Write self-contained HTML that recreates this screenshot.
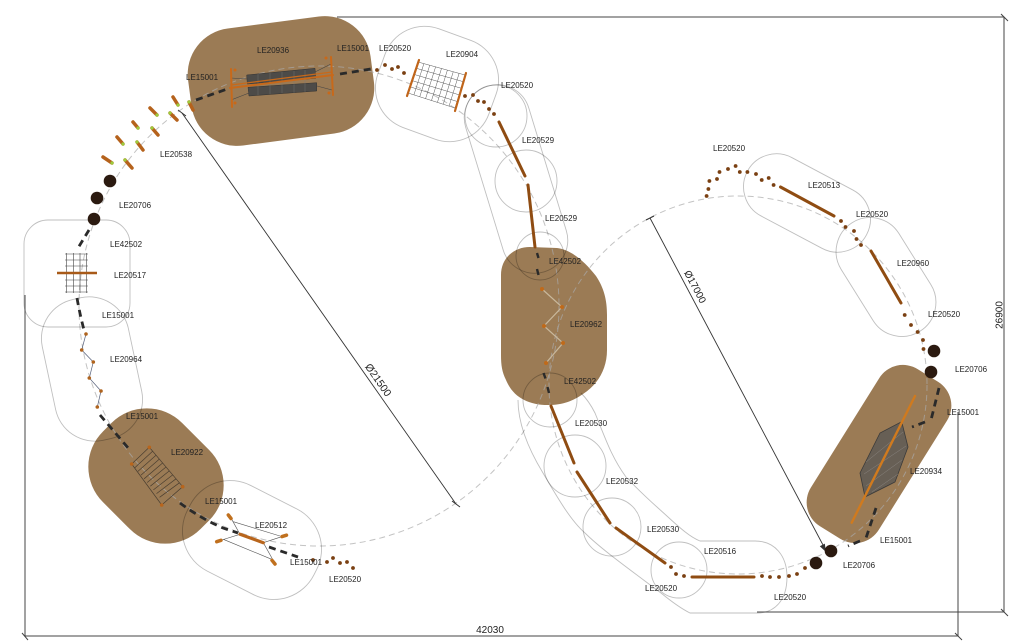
<!DOCTYPE html>
<html><head><meta charset="utf-8"><style>
html,body{margin:0;padding:0;background:#fff;}
svg{display:block;}
text{font-family:"Liberation Sans",Arial,sans-serif;font-size:8px;fill:#222;}
</style></head><body>
<svg width="1024" height="644" viewBox="0 0 1024 644" xmlns="http://www.w3.org/2000/svg">
<rect width="1024" height="644" fill="#fff"/>

<!-- brown areas -->
<g fill="#9b7b55">
<rect x="-92" y="-59" width="184" height="118" rx="46" transform="translate(281,81) rotate(-7.5)"/>
<path d="M501,275 C501,258 514,247 530,247 L557,248 C572,250 585,262 596,276 C604,288 607,300 607,315 L607,350 C607,370 597,385 583,394 C573,401 563,405 548,405 C528,405 513,397 506,380 C502,372 501,365 501,355 Z"/>
<rect x="-92.5" y="-40" width="185" height="80" rx="28" transform="translate(879,454) rotate(-58)"/>
<rect x="-69" y="-56" width="138" height="112" rx="50" transform="translate(156,476) rotate(45)"/>
</g>

<!-- dashed path circles -->
<g fill="none" stroke="#aaa" stroke-opacity="0.7" stroke-width="1" stroke-dasharray="6 4">
<circle cx="319" cy="306" r="240"/>
<circle cx="738" cy="385" r="189"/>
</g>

<!-- zone outlines -->
<g fill="none" stroke="#000" stroke-opacity="0.25" stroke-width="0.9">
<rect x="24" y="220" width="106" height="107" rx="24"/>
<rect x="-44" y="-72" width="88" height="144" rx="40" transform="translate(92,369) rotate(-12)"/>
<rect x="-71" y="-48" width="142" height="96" rx="45" transform="translate(252,540) rotate(27)"/>
<rect x="-59" y="-52.5" width="118" height="105" rx="42" transform="translate(437,84) rotate(20)"/>
<circle cx="496" cy="116" r="31"/>
<circle cx="526" cy="181" r="31"/>
<rect x="-33" y="-97" width="66" height="194" rx="33" transform="translate(516,179) rotate(-17)"/>
<circle cx="540" cy="256" r="24"/>
<circle cx="550" cy="400" r="27"/>
<path d="M518,400 C518,420 526,445 543,473 C556,495 570,520 585,533 C600,548 625,566 661,593 C672,602 680,608 690,613 L757,613 C775,613 787,600 787,577 C787,556 775,541 755,541 L700,541 C690,537 680,528 668,517 C655,505 645,497 626,477 C612,458 606,440 595,413 C590,403 586,398 581,393"/>
<circle cx="575" cy="466" r="31"/>
<circle cx="612" cy="527" r="29"/>
<circle cx="679" cy="570" r="28"/>
<rect x="-67.5" y="-33" width="135" height="66" rx="33" transform="translate(807,203) rotate(28)"/>
<rect x="-64" y="-34" width="128" height="68" rx="34" transform="translate(886,277) rotate(58)"/>
</g>

<!-- dimension lines -->
<g stroke="#444" stroke-width="1" fill="none">
<path d="M337,17 L1004,17 L1004,612 L757,612"/>
<path d="M25,295 L25,636 L958,636 L958,412"/>
<path d="M1001,14 L1008,21 M1001,609 L1008,616 M955,633 L962,640 M22,633 L28,640"/>
<path d="M182,113 L456,504" stroke="#333" stroke-width="0.9"/>
<path d="M178,110 L186,116 M452,501 L460,507" stroke="#333"/>
<path d="M650,218 L823,545" stroke="#333" stroke-width="0.9"/>
<path d="M646,220 L654,216" stroke="#333"/>
</g>
<polygon points="826,552 819.8,546.3 824.8,543.6" fill="#333"/>

<!-- dashed black LE15001 / LE42502 -->
<g fill="none" stroke="#2a2a2a" stroke-width="2.8" stroke-dasharray="7 5">
<path d="M196,100 L230,88"/>
<path d="M340,74 L371,69"/>
<path d="M89,230 L78,248"/>
<path d="M77,298 Q80,315 84,330"/>
<path d="M100,415 L129,449"/>
<path d="M180,503 Q200,518 223,528 L238,533"/>
<path d="M269,547 L298,557"/>
<path d="M939,388 L931,420 M925,422 L912,427"/>
<path d="M876,508 L866,538 M860,541 L848,546"/>
</g>
<g stroke="#2a2a2a" stroke-width="2.4">
<path d="M537,253 L538.5,258 M537,269 L538.5,275 M543.5,373 L545.5,378.5 M547.5,387 L549,393"/>
</g>

<!-- dark dots LE20706 -->
<g fill="#2b1a10">
<circle cx="110" cy="181" r="6.3"/>
<circle cx="97" cy="198" r="6.3"/>
<circle cx="94" cy="219" r="6.3"/>
<circle cx="934" cy="351" r="6.3"/>
<circle cx="931" cy="372" r="6.3"/>
<circle cx="831" cy="551" r="6.3"/>
<circle cx="816" cy="563" r="6.3"/>
</g>

<!-- posts -->
<g stroke="#8f4c12" stroke-width="3" stroke-linecap="round" fill="none">
<path d="M499,122 L525,176"/>
<path d="M528,185 L535,247"/>
<path d="M551,406 L574,463"/>
<path d="M577,472 L610,523"/>
<path d="M616,528 L665,563"/>
<path d="M692,577 L754,577"/>
<path d="M780.5,187 L834,216"/>
<path d="M871,251 L901,303"/>
</g>

<!-- beads -->
<g fill="#7a4012">
<circle cx="377" cy="70" r="1.9"/><circle cx="385" cy="65" r="1.9"/><circle cx="392" cy="69" r="1.9"/><circle cx="398" cy="67" r="1.9"/><circle cx="404" cy="73" r="1.9"/>
<circle cx="465" cy="96" r="1.9"/><circle cx="473" cy="95" r="1.9"/><circle cx="478" cy="101" r="1.9"/><circle cx="484" cy="102" r="1.9"/><circle cx="489" cy="109" r="1.9"/><circle cx="494" cy="114" r="1.9"/>
<circle cx="313" cy="560" r="1.9"/><circle cx="327" cy="562" r="1.9"/><circle cx="333" cy="558" r="1.9"/><circle cx="340" cy="563" r="1.9"/><circle cx="347" cy="562" r="1.9"/><circle cx="353" cy="568" r="1.9"/>
<circle cx="671" cy="567" r="1.9"/><circle cx="676" cy="574" r="1.9"/><circle cx="684" cy="576" r="1.9"/>
<circle cx="762" cy="576" r="1.9"/><circle cx="770" cy="577" r="1.9"/><circle cx="779" cy="577" r="1.9"/><circle cx="789" cy="576" r="1.9"/><circle cx="797" cy="574" r="1.9"/><circle cx="805" cy="568" r="1.9"/>
<circle cx="706.6" cy="196" r="1.9"/><circle cx="708.4" cy="189" r="1.9"/><circle cx="709.4" cy="181" r="1.9"/><circle cx="717" cy="179" r="1.9"/><circle cx="719.5" cy="172" r="1.9"/><circle cx="728" cy="169" r="1.9"/><circle cx="735.6" cy="166" r="1.9"/><circle cx="739.8" cy="172" r="1.9"/><circle cx="747.4" cy="172" r="1.9"/><circle cx="756" cy="174" r="1.9"/><circle cx="761.7" cy="180" r="1.9"/><circle cx="768.7" cy="178" r="1.9"/><circle cx="773.6" cy="185" r="1.9"/>
<circle cx="841" cy="221" r="1.9"/><circle cx="845.5" cy="227" r="1.9"/><circle cx="854" cy="231" r="1.9"/><circle cx="856.5" cy="239" r="1.9"/><circle cx="861" cy="245" r="1.9"/>
<circle cx="904.7" cy="315" r="1.9"/><circle cx="911" cy="325" r="1.9"/><circle cx="917.6" cy="332" r="1.9"/><circle cx="923" cy="340" r="1.9"/><circle cx="923.5" cy="349" r="1.9"/>
</g>

<!-- LE20538 logs -->
<g stroke="#b5621c" stroke-width="3.5" stroke-linecap="round">
<path d="M173,97 L178,105 M150,108 L157,115 M133,122 L138,128 M117,137 L123,144 M103,157 L112,163"/>
<path d="M170,113 L177,120 M152,128 L158,135 M137,142 L143,150 M125,160 L132,168 M189,102 L193,110"/>
</g>
<g fill="#9ccc3c">
<circle cx="178" cy="105" r="1.6"/><circle cx="157" cy="115" r="1.6"/><circle cx="138" cy="128" r="1.6"/><circle cx="123" cy="144" r="1.6"/><circle cx="112" cy="163" r="1.6"/>
<circle cx="170" cy="113" r="1.6"/><circle cx="152" cy="128" r="1.6"/><circle cx="137" cy="142" r="1.6"/><circle cx="125" cy="160" r="1.6"/><circle cx="189" cy="102" r="1.6"/>
</g>

<!-- LE20936 bridge -->
<g fill="#4d4b48" stroke="#333" stroke-width="0.5">
<polygon points="246.7,75 315,68.3 315.7,78.3 247.3,84"/>
<polygon points="248,87.3 316.7,82.7 316.7,91 249,96"/>
</g>
<g stroke="#777" stroke-width="0.4">
<path d="M258,74 L258,95 M270,73 L270,94 M282,72 L282,93 M294,71 L294,93 M305,70 L305,92"/>
</g>
<g stroke="#444" stroke-width="0.6" fill="none">
<path d="M231,78 L247,79 M231,100 L249,93 M315,72 L331,64 M317,86 L332,90"/>
</g>
<g stroke="#c8691a" stroke-width="2" stroke-linecap="round" fill="none">
<path d="M231,69 L232,107"/>
<path d="M331,57 L333,95"/>
<path d="M230,88 L333,75"/>
<path d="M231,85 L332,72" stroke-width="1.2"/>
</g>
<g fill="#c8691a"><circle cx="235" cy="70" r="1.5"/><circle cx="235" cy="103" r="1.5"/><circle cx="326" cy="58" r="1.5"/><circle cx="329" cy="93" r="1.5"/></g>

<!-- LE20904 net -->
<g stroke="#555" stroke-width="0.5" fill="none">
<path d="M418,62 L465,75 L455,108 L408,93 Z"/>
<path d="M423.9,63.6 L413.9,94.9 M429.75,65.25 L419.75,96.75 M435.6,66.9 L425.6,98.6 M441.5,68.5 L431.5,100.5 M447.4,70.1 L437.4,102.4 M453.25,71.75 L443.25,104.25 M459.1,73.4 L449.1,106.1"/>
<path d="M416,68.2 L463,81.6 M414,74.4 L461,88.2 M412,80.6 L459,94.8 M410,86.8 L457,101.4"/>
</g>
<g stroke="#c0651a" stroke-width="2.2" stroke-linecap="round">
<path d="M419,60 L407,96 M466,73 L455,111"/>
</g>

<!-- LE20517 -->
<g stroke="#444" stroke-width="0.6" fill="none">
<path d="M66.7,253 L66.7,293 M73.3,253 L73.3,293 M80,253 L80,293 M86.7,253 L86.7,293"/>
<path d="M65,254 L88,254 M65,260 L88,260 M65,266 L88,266 M65,280 L88,280 M65,286 L88,286 M65,292 L88,292"/>
</g>
<path d="M57,273 L97,273" stroke="#a85a18" stroke-width="2.6"/>

<!-- LE20964 zigzag -->
<polyline points="86,334 81.7,350 93.3,362 89.3,378 101,391 97.3,407" fill="none" stroke="#56607a" stroke-width="0.7"/>
<g fill="#b0641e"><circle cx="86" cy="334" r="1.8"/><circle cx="81.7" cy="350" r="1.8"/><circle cx="93.3" cy="362" r="1.8"/><circle cx="89.3" cy="378" r="1.8"/><circle cx="101" cy="391" r="1.8"/><circle cx="97.3" cy="407" r="1.8"/></g>

<!-- LE20922 ladder -->
<g stroke="#4a3e30" stroke-width="0.7" fill="none">
<polygon points="131.7,464 149.3,447.3 182.7,486.7 161.7,505"/>
<path d="M152.6,451.2 L134.8,467.7 M156,455.2 L137.9,471.4 M159.3,459.1 L141,475.1 M162.6,463 L144.1,478.8 M166,467 L147.2,482.5 M169.3,470.9 L150.3,486.2 M172.7,474.9 L153.4,489.9 M176,478.8 L156.5,493.6 M179.4,482.8 L159.6,497.3"/>
</g>
<g fill="#b8651c"><circle cx="131.7" cy="464" r="1.8"/><circle cx="149.3" cy="447.3" r="1.8"/><circle cx="182.7" cy="486.7" r="1.8"/><circle cx="161.7" cy="505" r="1.8"/></g>

<!-- LE20512 -->
<g stroke="#555" stroke-width="0.6" fill="none">
<path d="M231.7,519.3 L240,534.3 L221.7,540 M263.3,542.7 L281.7,536.7 M263.3,542.7 L273,560"/>
<path d="M233.3,521.7 L280,536 M223.3,539.3 L271.7,559.3"/>
</g>
<path d="M240,534.3 L263.3,542.7" stroke="#b8651c" stroke-width="3.2" stroke-linecap="round"/>
<g stroke="#c0701e" stroke-width="3.5" stroke-linecap="round">
<path d="M228.3,515 L231,518.5 M216.7,541.7 L221,540.3 M282,536.6 L286.5,535.2 M272,560.3 L275,564"/>
</g>

<!-- LE20962 -->
<polyline points="542,289 562,307 544,326 563,343 546,363" fill="none" stroke="#c9b89c" stroke-width="1.2"/>
<g fill="#c06a1a"><circle cx="542" cy="289" r="2"/><circle cx="562" cy="307" r="2"/><circle cx="544" cy="326" r="2"/><circle cx="563" cy="343" r="2"/><circle cx="546" cy="363" r="2"/></g>

<!-- LE20934 net -->
<polygon points="860,473 880,433 901.7,421.7 908,447 895,482 865,497" fill="#555" fill-opacity="0.75" stroke="#3a3a3a" stroke-width="0.8"/>
<g stroke="#8a8580" stroke-width="0.5" fill="none">
<path d="M866,462 L903,432 M864,474 L906,446 M866,486 L902,460 M872,492 L898,474"/>
</g>
<path d="M915,396 L851.7,522.7" stroke="#d07a1e" stroke-width="2.4" stroke-linecap="round"/>

<!-- labels -->
<g>
<text x="257" y="53">LE20936</text>
<text x="337" y="51">LE15001</text>
<text x="186" y="80">LE15001</text>
<text x="379" y="51">LE20520</text>
<text x="446" y="57">LE20904</text>
<text x="501" y="88">LE20520</text>
<text x="522" y="143">LE20529</text>
<text x="545" y="221">LE20529</text>
<text x="549" y="264">LE42502</text>
<text x="570" y="327">LE20962</text>
<text x="564" y="384">LE42502</text>
<text x="575" y="426">LE20530</text>
<text x="606" y="484">LE20532</text>
<text x="647" y="532">LE20530</text>
<text x="704" y="554">LE20516</text>
<text x="645" y="591">LE20520</text>
<text x="774" y="600">LE20520</text>
<text x="843" y="568">LE20706</text>
<text x="880" y="543">LE15001</text>
<text x="910" y="474">LE20934</text>
<text x="947" y="415">LE15001</text>
<text x="955" y="372">LE20706</text>
<text x="928" y="317">LE20520</text>
<text x="897" y="266">LE20960</text>
<text x="856" y="217">LE20520</text>
<text x="808" y="188">LE20513</text>
<text x="713" y="151">LE20520</text>
<text x="160" y="157">LE20538</text>
<text x="119" y="208">LE20706</text>
<text x="110" y="247">LE42502</text>
<text x="114" y="278">LE20517</text>
<text x="102" y="318">LE15001</text>
<text x="110" y="362">LE20964</text>
<text x="126" y="419">LE15001</text>
<text x="171" y="455">LE20922</text>
<text x="205" y="504">LE15001</text>
<text x="255" y="528">LE20512</text>
<text x="290" y="565">LE15001</text>
<text x="329" y="582">LE20520</text>
</g>
<text x="375.4" y="382" font-size="10.5" text-anchor="middle" transform="rotate(55 375.4 382)" style="font-size:10.5px">Ø21500</text>
<text x="692.2" y="288.3" font-size="10" text-anchor="middle" transform="rotate(62 692.2 288.3)" style="font-size:10px">Ø17000</text>
<text x="1002.5" y="315" text-anchor="middle" transform="rotate(-90 1002.5 315)" style="font-size:10px">26900</text>
<text x="490" y="633" text-anchor="middle" style="font-size:10px">42030</text>
</svg>
</body></html>
